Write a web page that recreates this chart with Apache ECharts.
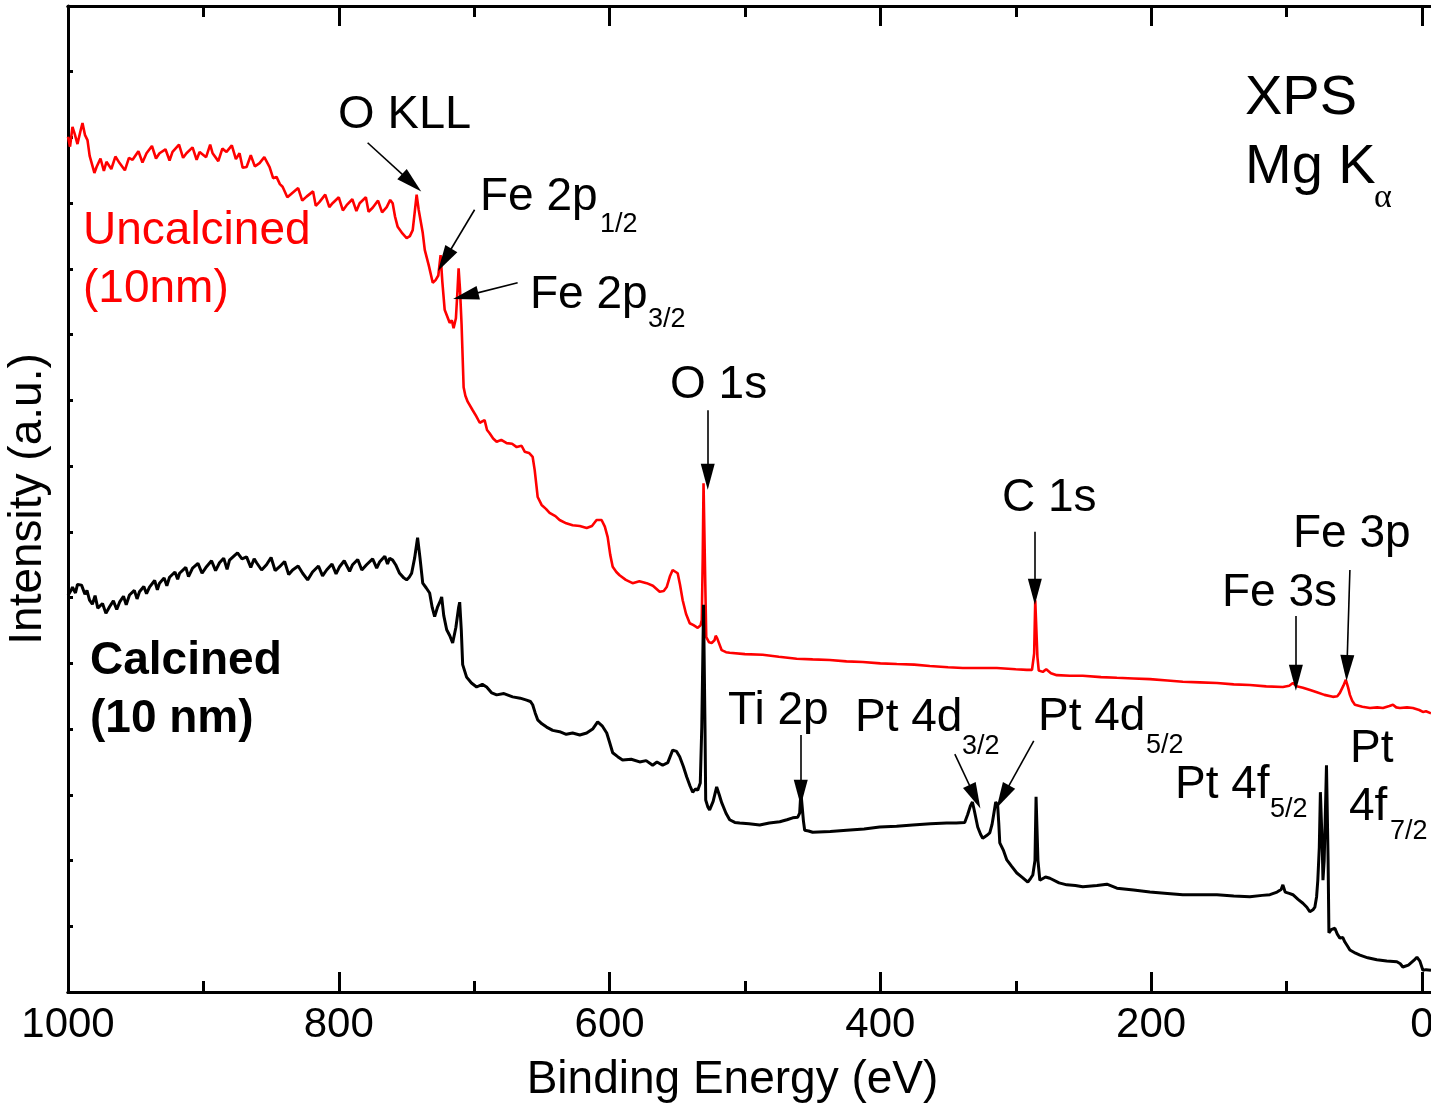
<!DOCTYPE html>
<html>
<head>
<meta charset="utf-8">
<title>XPS survey spectra</title>
<script src="https://cdn.jsdelivr.net/npm/echarts@6/dist/echarts.min.js"></script>
<style>
  html, body { margin: 0; padding: 0; background: #ffffff; }
  #chart { width: 1431px; height: 1106px; }
</style>
</head>
<body>
<div id="chart"></div>
<script>
// Binding energy (eV) and intensity (a.u.) of the uncalcined film
const uncalcinedEV = [1000,998.5,996.7,995,993,991,989.3,987.5,985.6,984,982.6,980.5,978.9,976,973.5,971.6,968,965,961.9,958,955,952.3,948,945,942,938,935,932.4,928,925,922.8,918,915,912.5,908,905,902.8,898,895,893.2,889,886,882.9,879,876,873.3,871,868.1,865,862,858.5,855,851.1,848.5,846,843.5,841.5,838,834.1,830,827,823.8,819,817,814.2,810,807,804.6,800,797,794.2,790,787,784.6,780,778,775,771,768,764.6,762,760.2,758.5,756.5,753,749.9,747.5,745.4,744,742.5,741,738,736.5,733.5,730.6,728.5,726.5,724.8,723.5,721.8,718.1,716.5,715.2,713.5,712.3,711.5,710.5,709.3,707.8,706.5,704.8,701.1,698.5,695.9,692.3,690.5,688.6,686,683.4,680,676,672,668.6,665,662.7,659.5,656.8,655.3,654,653.1,650.2,647,644.3,640,636.9,632,627.3,622,616.9,613,609.6,605.9,603.5,601.4,599.5,597.7,595,592.6,588,583,578,572.6,568,563,560,557.8,555.5,553.4,549.7,548,546,543.5,540.8,538,534.9,532.8,531.9,531.2,530.6,530,529.3,528.6,526.5,524.6,522.5,521.6,520.5,517.2,514,511.3,500,486.9,475,461.8,450,437.4,425,413,400,387.9,375,363.5,350,339.1,325,314,300,291.8,288,286.4,285.6,284.8,284,283,280,277.5,276.3,274,269.7,260,250.5,237,225.3,213,200.9,188,176.6,164,151.4,139,127.1,115,102.7,98,95.3,92.5,87.9,82,77.6,72,65.8,62.5,60.6,58,56.2,54.5,53.2,51.5,49.5,44,38.4,33,28.8,24,21.4,19,16.3,11,6.7,2,-0.7,-3,-6.7];
const uncalcinedI = [130.1,128.6,131.6,130.5,129.0,130.8,132.2,130.4,129.6,127.2,127.0,124.6,125.5,126.8,124.9,126.3,125.2,127.1,126.1,125.0,126.9,126.6,127.9,126.2,127.6,128.7,126.8,127.6,128.2,126.5,127.8,128.9,126.9,127.6,128.5,126.6,127.8,127.0,128.9,127.6,126.4,128.3,127.8,128.8,126.7,127.6,125.4,125.5,127.3,125.6,126.1,127.0,125.5,123.8,124.0,122.9,122.5,120.9,121.6,122.3,120.4,121.0,121.8,119.6,120.2,121.3,119.4,120.0,120.9,118.9,119.7,120.6,118.8,120.0,120.9,118.7,119.3,120.4,118.6,119.4,120.5,120.0,118.0,116.4,115.4,114.7,115.0,115.9,118.5,121.3,119.0,115.5,112.9,110.5,107.9,108.3,109.0,112.1,108.0,103.8,101.8,102.2,101.0,102.5,106.8,110.1,107.0,101.5,92.0,90.7,89.8,88.5,87.6,86.6,87.0,85.5,85.0,84.2,83.7,84.0,83.5,83.4,82.9,83.1,82.2,82.0,81.4,79.4,77.0,75.3,74.1,73.5,72.9,72.4,71.8,71.3,71.0,70.9,70.6,70.9,71.8,71.8,70.8,69.2,66.5,64.7,63.9,63.4,62.7,62.2,62.5,62.2,61.8,60.9,61.0,61.6,63.2,64.2,63.7,62.0,59.6,57.5,56.1,55.8,55.4,55.8,56.6,66.0,77.4,77.4,62.0,54.0,53.2,53.1,53.5,54.2,53.8,52.0,51.7,51.6,51.4,51.3,51.0,50.7,50.6,50.5,50.3,50.2,50.0,49.9,49.8,49.6,49.4,49.3,49.3,49.3,49.1,49.0,49.0,51.5,59.6,59.6,51.0,48.9,48.7,49.1,49.3,48.5,48.2,48.1,48.1,47.9,47.8,47.7,47.6,47.4,47.2,47.1,47.0,46.8,46.7,46.5,46.4,46.6,47.0,46.5,46.3,45.9,45.6,45.2,44.9,45.0,45.5,46.6,47.5,46.3,45.2,44.3,43.7,43.4,43.2,43.3,43.2,43.5,43.7,43.3,43.2,43.3,43.2,42.9,42.6,42.7,42.4];

// Binding energy (eV) and intensity (a.u.) of the calcined film
const calcinedEV = [1000,998.9,997.5,996.7,994.5,993,990,987.5,986,984.1,982,980,978,976.7,974.5,972,969.3,966.5,964,961.9,959,957,954.6,951,949,947.2,944,942,939.8,936,934,932.4,929,927,925,921,919,917.6,913,911,908,904,901,897.7,894,891,888.1,885,882.5,880.7,877.5,874.8,871.5,868.1,865,862.5,860.7,857,853.4,850,847,843.7,840,837,834.1,830,826.7,823,819.4,815,812,809,805,802,799.4,796,792,789.8,786,783,779.5,775,772,769.9,766,764,762.5,760.2,758,755.1,752,749.9,748,746.2,744,741.8,740,738,735.5,732.9,731,729.2,727,725,724,722.5,720.3,718,715.9,713.5,711.5,710.7,709.5,708.5,705.6,702,698.2,694,690.8,687,683.4,678,671.6,666,661.3,658.5,656.8,655,653.1,650,646.5,642,636.9,632,627.3,622,616.9,612.5,608.8,605.5,602.1,600,597.7,594,590.4,584,577.8,573,568.2,565,560.8,557,553.4,550.5,548.2,545.5,543,540.5,538.6,536.5,534.9,533,531.9,531.2,530.6,530.1,529.5,529,527.5,526.1,523.5,520.9,519,517.2,514,511.3,507.5,503.9,497,489.1,482,474.3,469,464.7,461,459.6,458.7,457.8,456.8,455.9,453,450,437,424.9,412,400.5,388,376.1,363,351,344,337.7,335.5,333.5,332,330.5,328.1,326,324.4,321.5,319.2,317.5,316.3,314.8,313.4,312.5,311.8,309,306.6,303,299.2,295,291.1,289,287.4,285.8,285,284.4,283.6,282.2,278,274.8,268,262.3,256,250.5,240,232.7,229,225.3,213,200.9,188,176.6,164,151.4,139,127.1,118,112.3,107,104,102.7,101,98,95.3,91.5,87.9,85,82.8,80.5,79.1,77.8,76.9,75.8,75,74.3,73.6,73.1,72.2,71,70.5,69.9,69.3,68.7,67,64.3,62.5,60.6,58.5,56.9,55,53.2,49,45.8,40,33.3,26,18.5,16,14.1,10,6,3.7,1.5,-0.7,-3,-6.7];
const calcinedI = [60.3,60.1,61.2,61.6,60.7,62.0,61.9,60.5,61.1,59.6,59.0,60.3,58.4,58.1,59.1,57.6,58.6,59.5,58.2,59.3,60.2,58.9,60.4,61.1,59.8,60.9,61.7,60.6,61.6,62.6,61.2,62.2,63.0,61.8,63.1,63.9,62.8,63.7,64.6,63.2,64.5,65.2,63.7,64.7,65.6,64.1,65.3,66.0,64.3,65.7,66.3,66.8,65.9,66.2,64.6,65.9,65.3,64.2,65.0,66.1,64.1,64.7,65.5,63.5,64.2,64.8,63.7,62.7,63.9,64.8,63.3,64.2,65.1,63.6,64.7,65.6,64.0,65.0,65.8,64.2,65.0,65.9,64.5,65.4,66.3,65.1,66.0,65.7,65.0,63.7,63.0,62.7,63.1,63.7,66.0,69.1,66.0,62.2,61.5,60.7,58.5,57.1,58.6,59.5,60.1,57.3,55.1,54.2,53.1,55.5,58.5,59.3,55.0,49.8,47.9,47.0,46.4,46.8,46.4,45.5,45.2,45.4,44.9,44.7,44.4,44.2,43.7,42.5,41.4,40.8,40.3,39.8,39.6,39.2,39.4,39.1,39.4,40.0,41.1,40.5,39.4,38.0,36.4,35.8,35.3,35.4,35.0,35.2,34.5,35.0,34.5,34.9,36.8,36.6,35.8,34.3,32.7,31.3,30.4,30.9,30.7,31.8,40.3,50.0,58.9,58.9,40.0,29.2,28.2,27.7,29.0,31.2,30.0,28.8,27.2,26.2,25.8,25.7,25.6,25.4,25.7,25.9,26.2,26.5,26.6,27.2,30.4,30.4,26.0,24.6,24.5,24.3,24.4,24.6,24.8,25.1,25.2,25.4,25.6,25.7,25.7,25.8,27.0,28.3,28.9,27.5,25.1,24.0,23.4,23.8,24.2,25.5,27.0,28.9,28.5,25.5,22.7,21.5,20.1,19.1,18.1,17.4,16.7,17.3,17.8,20.0,29.7,29.7,20.0,17.0,17.5,17.3,16.6,16.3,16.2,16.0,16.2,16.4,16.1,15.8,15.5,15.2,15.0,14.8,14.8,14.8,14.6,14.5,14.7,14.8,15.2,15.6,16.3,15.2,15.0,14.8,14.1,13.5,12.9,12.2,12.5,12.9,14.5,17.0,22.0,30.4,30.4,22.0,17.0,20.0,30.0,34.5,34.5,20.0,9.0,9.5,9.7,8.8,8.2,8.3,7.6,7.0,6.4,5.9,5.6,5.2,4.9,4.7,4.6,4.3,3.8,4.1,4.8,5.3,4.7,3.3,3.4,3.3];

// Axis ticks
const majorTicks = [0, 200, 400, 600, 800, 1000];
const minorTicks = [100, 300, 500, 700, 900];

// Peak markers: arrow tail and head as [eV, intensity]
const arrowTails = [[778.7,129.2],[699.7,119.0],[667.9,107.9],[527.5,88.5],[285.9,70.0],[93.1,57.2],[53.2,64.2],[458.8,39.1],[345.0,36.2],[286.7,38.2]];
const arrowHeads = [[746.2,123.1],[721.8,111.4],[706.3,105.9],[527.5,78.4],[285.9,60.9],[93.1,47.8],[55.4,49.3],[458.8,30.3],[330.2,29.7],[309.6,29.7]];

const FONT = '"Liberation Sans", Arial, Helvetica, sans-serif';

function pairs(xs, ys) { return xs.map((x, i) => [x, ys[i]]); }

// Labels: text, left edge, vertical centre of capitals, size, colour, weight
const labels = [
  ['XPS', 1245, 99, 56, '#000', 'normal'],
  ['Mg K', 1245, 168, 56, '#000', 'normal'],
  ['O KLL', 338, 115, 47, '#000', 'normal'],
  ['Fe 2p', 480, 197, 46, '#000', 'normal'],
  ['1/2', 600, 225, 27, '#000', 'normal'],
  ['Fe 2p', 530, 295, 46, '#000', 'normal'],
  ['3/2', 648, 320, 27, '#000', 'normal'],
  ['O 1s', 670, 385, 46, '#000', 'normal'],
  ['C 1s', 1002, 498, 46, '#000', 'normal'],
  ['Fe 3p', 1293, 534, 46, '#000', 'normal'],
  ['Fe 3s', 1222, 593, 46, '#000', 'normal'],
  ['Uncalcined', 83, 231, 46, '#ff0000', 'normal'],
  ['(10nm)', 83, 289, 46, '#ff0000', 'normal'],
  ['Calcined', 90, 661, 46, '#000', 'bold'],
  ['(10 nm)', 90, 719, 46, '#000', 'bold'],
  ['Ti 2p', 728, 711, 46, '#000', 'normal'],
  ['Pt 4d', 855, 718, 46, '#000', 'normal'],
  ['3/2', 962, 747, 27, '#000', 'normal'],
  ['Pt 4d', 1038, 717, 46, '#000', 'normal'],
  ['5/2', 1146, 746, 27, '#000', 'normal'],
  ['Pt 4f', 1175, 785, 46, '#000', 'normal'],
  ['5/2', 1270, 810, 27, '#000', 'normal'],
  ['Pt', 1350, 749, 46, '#000', 'normal'],
  ['4f', 1349, 807, 46, '#000', 'normal'],
  ['7/2', 1390, 832, 27, '#000', 'normal']
];

const chart = echarts.init(document.getElementById('chart'), null, { renderer: 'canvas' });

const axisLineStyle = { show: true, onZero: false, lineStyle: { color: '#000', width: 3 } };

function xAxisDef(position, ticks, len, withLabels) {
  const ax = {
    type: 'value', min: -6.7, max: 1000, inverse: true, position: position,
    axisLine: axisLineStyle,
    axisTick: { show: true, inside: true, length: len, customValues: ticks, lineStyle: { color: '#000', width: 3 } },
    axisLabel: { show: false },
    splitLine: { show: false }
  };
  if (withLabels) {
    ax.axisLabel = {
      show: true, customValues: majorTicks, color: '#000', fontFamily: FONT, fontSize: 42, margin: 12,
      formatter: v => String(v)
    };
    ax.name = 'Binding Energy (eV)';
    ax.nameLocation = 'middle';
    ax.nameGap = 65;
    ax.nameTextStyle = { color: '#000', fontFamily: FONT, fontSize: 46, padding: [0, 34, 0, 0] };
  }
  return ax;
}

const arrowData = arrowTails.map((t, i) => [{ coord: t }, { coord: arrowHeads[i] }]);

const option = {
  animation: false,
  backgroundColor: '#ffffff',
  grid: { left: 68, right: 0, top: 6, bottom: 114, containLabel: false, outerBoundsMode: 'none' },
  xAxis: [
    xAxisDef('bottom', majorTicks, 20, true),
    xAxisDef('bottom', minorTicks, 11, false),
    xAxisDef('top', majorTicks, 20, false),
    xAxisDef('top', minorTicks, 11, false)
  ],
  yAxis: {
    type: 'value', min: 0, max: 150, interval: 10,
    axisLine: axisLineStyle,
    axisTick: { show: true, inside: true, length: 5, lineStyle: { color: '#000', width: 3 } },
    axisLabel: { show: false },
    splitLine: { show: false },
    name: 'Intensity (a.u.)',
    nameLocation: 'middle',
    nameGap: 17,
    nameTextStyle: { color: '#000', fontFamily: FONT, fontSize: 46 }
  },
  series: [
    {
      name: 'Uncalcined (10nm)', type: 'line', data: pairs(uncalcinedEV, uncalcinedI),
      showSymbol: false, symbol: 'none', lineStyle: { color: '#ff0000', width: 2.6 },
      z: 2
    },
    {
      name: 'Calcined (10 nm)', type: 'line', data: pairs(calcinedEV, calcinedI),
      showSymbol: false, symbol: 'none', lineStyle: { color: '#000000', width: 3 },
      z: 3,
      markLine: {
        silent: true, animation: false,
        symbol: ['none', 'triangle'], symbolSize: [14, 26],
        label: { show: false },
        lineStyle: { color: '#000', width: 1.6, type: 'solid' },
        emphasis: { disabled: true },
        data: arrowData
      }
    }
  ],
  graphic: labels.map(l => ({
    type: 'text', silent: true, z: 10,
    style: {
      text: l[0], x: l[1], y: l[2], fill: l[4],
      font: l[5] + ' ' + l[3] + 'px ' + FONT,
      align: 'left', verticalAlign: 'middle'
    }
  })).concat([{
    type: 'text', silent: true, z: 10,
    style: { text: 'α', x: 1374, y: 198, fill: '#000', font: '34px "Liberation Serif", "DejaVu Serif", serif', align: 'left', verticalAlign: 'middle' }
  }])
};

chart.setOption(option);
</script>
</body>
</html>
